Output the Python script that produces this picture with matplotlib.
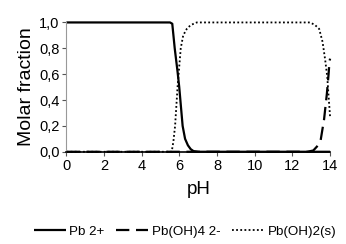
import matplotlib
matplotlib.use("Agg")
import matplotlib.pyplot as plt

plt.rcParams['font.family'] = ['Liberation Sans', 'DejaVu Sans']

# Pb 2+ (solid)
ph_pb = [0, 5.0, 5.5, 5.62, 5.75, 5.9, 5.99, 6.08, 6.17, 6.3, 6.45, 6.6, 6.75, 7.0, 10.0, 14.0]
pb = [1.0, 1.0, 1.0, 0.99, 0.8, 0.62, 0.5, 0.35, 0.2, 0.1, 0.05, 0.02, 0.005, 0.0, 0.0, 0.0]

# Pb(OH)4 2- (dashed)
ph_pboh4 = [0, 5.0, 10.0, 12.8, 13.11, 13.3, 13.5, 13.68, 13.83, 13.92, 13.97, 14.0]
pboh4 = [0.0, 0.0, 0.0, 0.0, 0.01, 0.04, 0.09, 0.25, 0.45, 0.6, 0.7, 0.72]

# Pb(OH)2(s) (dotted)
ph_pboh2 = [0, 5.0, 5.59, 5.68, 5.77, 5.9, 6.07, 6.2, 6.39, 6.6, 6.92, 10.0, 12.94, 13.2,
            13.42, 13.6, 13.74, 13.85, 13.91, 13.96, 14.0]
pboh2 = [0.0, 0.0, 0.0, 0.08, 0.2, 0.5, 0.8, 0.9, 0.95, 0.98, 1.0, 1.0, 1.0, 0.98,
         0.95, 0.85, 0.71, 0.58, 0.45, 0.35, 0.27]

x_ticks = [0, 2, 4, 6, 8, 10, 12, 14]
y_ticks = [0.0, 0.2, 0.4, 0.6, 0.8, 1.0]
y_labels = ['0,0', '0,2', '0,4', '0,6', '0,8', '1,0']

fig = plt.figure(figsize=(3.46, 2.44), dpi=100)
ax = fig.add_axes([0.192, 0.378, 0.762, 0.53])

ax.plot(ph_pb, pb, color='black', lw=1.6, solid_capstyle='butt',
        label='Pb 2+', clip_on=False)
ax.plot(ph_pboh4, pboh4, color='black', lw=1.6, dashes=(6, 3),
        label='Pb(OH)4 2-', clip_on=False)
ax.plot(ph_pboh2, pboh2, color='black', lw=1.3, dashes=(1, 1.3),
        label='Pb(OH)2(s)', clip_on=False)

ax.set_xlim(0, 14)
ax.set_ylim(0, 1)
ax.set_xticks(x_ticks)
ax.set_yticks(y_ticks)
ax.set_yticklabels(y_labels)
ax.tick_params(labelsize=10.5, length=3, width=0.8, color='#555555', pad=2)

for s in ['top', 'right']:
    ax.spines[s].set_visible(False)
ax.spines['left'].set_color('#999999')
ax.spines['left'].set_linewidth(0.8)
ax.spines['bottom'].set_color('black')
ax.spines['bottom'].set_linewidth(1.2)

ax.set_xlabel('pH', fontsize=13.5, labelpad=6)
ax.set_ylabel('Molar fraction', fontsize=14, labelpad=3)

fig.legend(loc='center', bbox_to_anchor=(0.535, 0.05), ncol=3, frameon=False,
           fontsize=9.6, handlelength=2.4, handletextpad=0.25, columnspacing=0.9)

fig.savefig('out.png', dpi=100, facecolor='white')
